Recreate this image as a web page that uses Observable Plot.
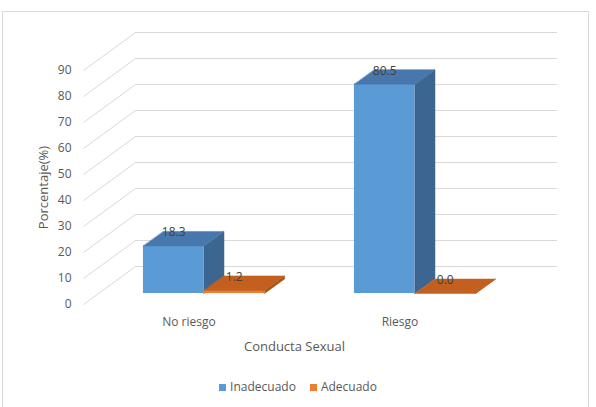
<!DOCTYPE html>
<html><head><meta charset="utf-8">
<script src="https://cdn.jsdelivr.net/npm/d3@7"></script>
<script src="https://cdn.jsdelivr.net/npm/@observablehq/plot@0.6"></script>
<style>
html,body{margin:0;padding:0;background:#fff;}
#wrap{position:relative;width:596px;height:407px;overflow:hidden;font-family:"Open Sans",sans-serif;color:#595959;}
#frame{position:absolute;left:2px;top:11px;width:587px;height:410px;border:1px solid #D9D9D9;box-sizing:border-box;}
#chart{position:absolute;left:0;top:0;}
#legend{position:absolute;left:0;width:596px;top:378px;height:18px;display:flex;justify-content:center;align-items:center;font-size:12px;line-height:18px;}
#legend .item{display:flex;align-items:center;margin:0 7px;}
#legend .sw{display:inline-block;width:7px;height:7px;margin-right:4px;}
</style></head><body>
<div id="wrap"><div id="frame"></div><div id="chart"></div><div id="legend"></div></div>
<script>
// ---- data ----
const categories = ["No riesgo", "Riesgo"];
const seriesNames = ["Inadecuado", "Adecuado"];
const inadecuado = [18.3, 80.5];
const adecuado = [1.2, 0.0];
const yTicks = [0, 10, 20, 30, 40, 50, 60, 70, 80, 90];
const xTitle = "Conducta Sexual";
const yTitle = "Porcentaje(%)";

// ---- style / layout ----
const palette = {
  Inadecuado: {front: "#5B9BD5", top: "#4777AC", side: "#3C6590"},
  Adecuado:   {front: "#ED7D31", top: "#C4601F", side: "#A9501A"}
};
const W = 596, H = 360, mL = 83, mR = 91, mT = 70, mB = 56;
const xMax = categories.length, yMax = 90;
const kx = xMax / (W - mL - mR), ky = yMax / (H - mT - mB); // data units per pixel
const wallDX = 52, wallDY = 38;   // full depth of 3D box (px)
const barOffX = 15, barOffY = 11; // bar row position in depth (px)
const barDX = 20, barDY = 14.5;   // bar depth (px)
const barW = 0.287;               // bar width (fraction of category)

const seriesValues = [inadecuado, adecuado];
const bars = [];
categories.forEach((c, i) => {
  seriesNames.forEach((s, j) => {
    const v = seriesValues[j][i];
    const x1 = i + 0.5 - barW + j * barW, x2 = x1 + barW;
    bars.push({id: c + "|" + s, cat: c, series: s, v, x1, x2});
  });
});
const ddx = barDX * kx, ddy = barDY * ky;
const tops = [], sides = [];
bars.forEach(b => {
  tops.push({id: b.id, s: b.series, x: b.x1, y: b.v}, {id: b.id, s: b.series, x: b.x2, y: b.v},
            {id: b.id, s: b.series, x: b.x2 + ddx, y: b.v + ddy}, {id: b.id, s: b.series, x: b.x1 + ddx, y: b.v + ddy});
  sides.push({id: b.id, s: b.series, x: b.x2, y: 0}, {id: b.id, s: b.series, x: b.x2 + ddx, y: ddy},
             {id: b.id, s: b.series, x: b.x2 + ddx, y: b.v + ddy}, {id: b.id, s: b.series, x: b.x2, y: b.v});
});

const marks = [
  // back wall gridlines
  Plot.ruleY(yTicks, {y: d => d, x1: 0, x2: xMax, dx: wallDX, dy: -wallDY, stroke: "#D9D9D9", strokeWidth: 1}),
  // side wall diagonals
  Plot.link(yTicks, {x1: 0, y1: d => d, x2: wallDX * kx, y2: d => d + wallDY * ky, stroke: "#D9D9D9", strokeWidth: 1})
];
seriesNames.forEach(s => {
  // draw per category in order so overlaps are right
});
categories.forEach(c => {
  seriesNames.forEach(s => {
    const id = c + "|" + s;
    const col = palette[s];
    marks.push(
      Plot.rect(bars.filter(b => b.id === id), {x1: "x1", x2: "x2", y1: 0, y2: "v", fill: col.front, dx: barOffX, dy: -barOffY}),
      Plot.line(sides.filter(p => p.id === id), {x: "x", y: "y", z: "id", fill: col.side, stroke: col.side, strokeWidth: 0.5, curve: "linear-closed", dx: barOffX, dy: -barOffY}),
      Plot.line(tops.filter(p => p.id === id), {x: "x", y: "y", z: "id", fill: col.top, stroke: col.top, strokeWidth: 0.5, curve: "linear-closed", dx: barOffX, dy: -barOffY})
    );
  });
});
marks.push(
  Plot.text(bars, {x: b => (b.x1 + b.x2) / 2, y: b => b.v + ddy, text: b => b.v.toFixed(1), fill: "#404040", fontSize: 12, dx: barOffX, dy: -barOffY + 1, lineAnchor: "middle"}),
  Plot.text([yTitle], {frameAnchor: "left", rotate: -90, dx: -40, dy: 0, fontSize: 13, fill: "#595959", textAnchor: "middle", lineAnchor: "middle"}),
  Plot.text([xTitle], {frameAnchor: "bottom", dy: 42, fontSize: 13, fill: "#595959", lineAnchor: "middle"})
);

const chart = Plot.plot({
  width: W, height: H,
  marginLeft: mL, marginRight: mR, marginTop: mT, marginBottom: mB,
  style: {fontFamily: "Open Sans, sans-serif", fontSize: "12px", color: "#595959", background: "transparent", overflow: "visible"},
  x: {type: "linear", domain: [0, xMax], ticks: categories.map((c, i) => i + 0.5), tickFormat: t => categories[Math.floor(t)], tickSize: 0, tickPadding: 13, label: null},
  y: {type: "linear", domain: [0, yMax], ticks: yTicks, tickFormat: d => String(d), tickSize: 0, tickPadding: 12, label: null},
  marks
});
document.getElementById("chart").appendChild(chart);

const leg = document.getElementById("legend");
seriesNames.forEach(s => {
  const item = document.createElement("span");
  item.className = "item";
  const sw = document.createElement("span");
  sw.className = "sw";
  sw.style.background = palette[s].front;
  const t = document.createElement("span");
  t.textContent = s;
  item.appendChild(sw); item.appendChild(t);
  leg.appendChild(item);
});
</script>
</body></html>
